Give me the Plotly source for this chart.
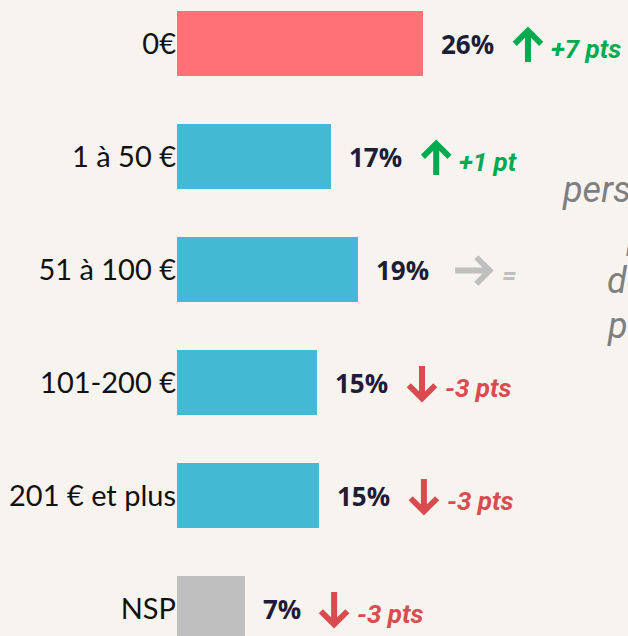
import plotly.graph_objects as go

# budget categories, top to bottom
categories = ["0€", "1 à 50 €", "51 à 100 €", "101-200 €", "201 € et plus", "NSP"]
shares = [26.0, 16.3, 19.1, 14.8, 15.0, 7.2]          # bar lengths (%)
share_labels = ["26%", "17%", "19%", "15%", "15%", "7%"]
changes = [7, 1, 0, -3, -3, -3]                        # evolution in points
change_labels = ["+7 pts", "+1 pt", "=", "-3 pts", "-3 pts", "-3 pts"]
bar_colors = ["#FF7077", "#43B9D3", "#43B9D3", "#43B9D3", "#43B9D3", "#BFBFBF"]

# cropped commentary on the right edge
side_lines = ["personnes", "prêtes à", "dépenser", "plus"]

BG = "#F7F4F0"
NAVY = "#1F1C35"
UP, FLAT, DOWN = "#00AA4F", "#BFBFBF", "#D94B4E"
W, H, LEFT = 628, 636, 177

fig = go.Figure(go.Bar(
    x=shares, y=categories, orientation="h",
    marker=dict(color=bar_colors, line_width=0),
    width=0.575, hoverinfo="skip"))

annotations = []
for cat, val, lab, d, dlab in zip(categories, shares, share_labels,
                                  changes, change_labels):
    lw = 54 if len(lab) == 3 else 38
    annotations.append(dict(
        x=val, y=cat, text=lab, showarrow=False, xanchor="left",
        xshift=16, font=dict(family="Open Sans", size=26, color=NAVY,
                             weight="bold")))
    if d == 0:
        color = FLAT
        head = 17 + lw + 25 + 40
        arrow = dict(xshift=head, yshift=-1, ax=-40, ay=0)
        text_x = head + 6
    else:
        color = UP if d > 0 else DOWN
        head = 17 + lw + 34
        if d > 0:
            arrow = dict(xshift=head, yshift=17, ax=0, ay=37)
        else:
            arrow = dict(xshift=head, yshift=-20, ax=0, ay=-38)
        text_x = head + 21
    annotations.append(dict(
        x=val, y=cat, text="", showarrow=True, arrowhead=4,
        arrowsize=0.85, arrowwidth=6, arrowcolor=color, standoff=0,
        **arrow))
    annotations.append(dict(
        x=val, y=cat, text=dlab, showarrow=False, xanchor="left",
        xshift=text_x, yshift=-5,
        font=dict(family="Roboto", size=26, color=color, weight="bold",
                  style="italic")))

side_pos = [(560, 190), (624, 236), (605, 281), (605, 326)]
for line, (px, py) in zip(side_lines, side_pos):
    annotations.append(dict(
        xref="paper", yref="paper", x=(px - LEFT) / (W - LEFT),
        y=1 - py / H, text=line, showarrow=False, xanchor="left",
        yanchor="middle",
        font=dict(family="Roboto", size=36, color="#7F7F7F",
                  style="italic")))

fig.update_layout(
    width=W, height=H,
    margin=dict(l=LEFT, r=0, t=0, b=0, autoexpand=False),
    paper_bgcolor=BG, plot_bgcolor=BG,
    showlegend=False,
    bargap=0,
    xaxis=dict(range=[0, (W - LEFT) / 9.46], visible=False,
               automargin=False),
    yaxis=dict(type="category", categoryarray=categories,
               range=[5.243, -0.385], showgrid=False, zeroline=False,
               showline=False, ticks="", automargin=False,
               tickfont=dict(family="Lato", size=29, color="#111111")),
    annotations=annotations)

fig.write_html("out.html", config={"displayModeBar": False},
               post_script="document.body.style.margin = '0';")
